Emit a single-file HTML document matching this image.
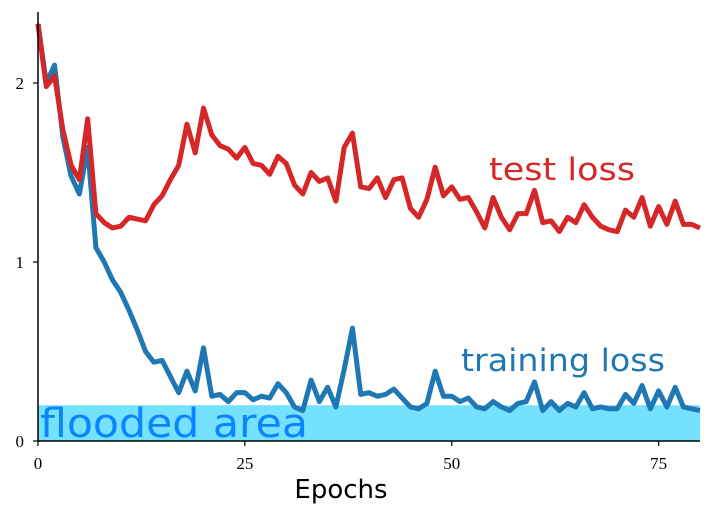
<!DOCTYPE html>
<html><head><meta charset="utf-8"><style>
html,body{margin:0;padding:0;background:#fff;}
svg{display:block;}
</style></head><body>
<svg id="chart" width="725" height="506" xmlns="http://www.w3.org/2000/svg">
<g id="plot"></g>
</svg>
<script>
const epochs = Array.from({length:81},(_,i)=>i);
const testLoss = [2.33,1.98,2.04,1.74,1.54,1.46,1.80,1.27,1.22,1.19,1.20,1.25,1.24,1.23,1.32,1.37,1.46,1.54,1.77,1.61,1.86,1.71,1.65,1.63,1.58,1.64,1.55,1.54,1.49,1.59,1.55,1.43,1.38,1.50,1.45,1.47,1.34,1.64,1.72,1.42,1.41,1.47,1.36,1.46,1.47,1.30,1.25,1.35,1.53,1.37,1.42,1.35,1.36,1.28,1.19,1.36,1.25,1.18,1.27,1.27,1.40,1.22,1.23,1.17,1.25,1.22,1.32,1.25,1.20,1.18,1.17,1.29,1.25,1.36,1.20,1.31,1.21,1.34,1.21,1.21,1.19];
const trainLoss = [2.33,2.00,2.10,1.70,1.48,1.38,1.64,1.08,1.00,0.90,0.83,0.73,0.62,0.50,0.44,0.45,0.36,0.27,0.39,0.28,0.52,0.25,0.26,0.22,0.27,0.27,0.23,0.25,0.24,0.32,0.27,0.19,0.17,0.34,0.22,0.30,0.19,0.40,0.63,0.26,0.27,0.25,0.26,0.29,0.24,0.19,0.18,0.21,0.39,0.25,0.25,0.22,0.24,0.19,0.18,0.22,0.19,0.17,0.21,0.22,0.33,0.17,0.22,0.17,0.21,0.19,0.27,0.18,0.19,0.18,0.18,0.26,0.21,0.31,0.18,0.28,0.19,0.30,0.19,0.18,0.17];
const floodLevel = 0.2;
const xTicks = [0,25,50,75];
const yTicks = [0,1,2];

const NS="http://www.w3.org/2000/svg";
const X0=38, X1=700, Y0=441, PXU=179;
const xs = v => X0 + (v/80)*(X1-X0);
const ys = v => Y0 - v*PXU;
const g = document.getElementById('plot');
function mk(tag, attrs){const e=document.createElementNS(NS,tag);for(const k in attrs)e.setAttribute(k,attrs[k]);g.appendChild(e);return e;}

let r = mk('rect',{x:X0,y:ys(floodLevel),width:X1-X0,height:Y0-ys(floodLevel),fill:'#74e1ff'});



function line(data,color,name){
  const p = mk('polyline',{points:data.map((v,i)=>xs(epochs[i])+','+ys(v)).join(' '),fill:'none',stroke:color,'stroke-width':5,'stroke-linejoin':'round','stroke-linecap':'butt'});
  
  
}
line(trainLoss,'#1f77b4','training-loss-line');
line(testLoss,'#d62728','test-loss-line');

let ax = mk('line',{x1:X0,y1:12,x2:X0,y2:Y0,stroke:'#000','stroke-width':1.5});


let bx = mk('line',{x1:X0,y1:Y0,x2:X1,y2:Y0,stroke:'#000','stroke-width':1.5});



xTicks.forEach(t=>{
  mk('line',{x1:xs(t),y1:Y0,x2:xs(t),y2:Y0+5,stroke:'#000','stroke-width':1.2});
  const tx = mk('text',{x:xs(t),y:Y0+28,'text-anchor':'middle','font-family':'Liberation Serif, serif','font-size':17});
  tx.textContent=t;
  
  
});
yTicks.forEach(t=>{
  mk('line',{x1:X0-5,y1:ys(t),x2:X0,y2:ys(t),stroke:'#000','stroke-width':1.2});
  const tx = mk('text',{x:X0-14,y:ys(t)+6,'text-anchor':'end','font-family':'Liberation Serif, serif','font-size':17});
  tx.textContent=t;
  
  
});

function label(txt,x,y,size,color,name,anchor,len){
  const a={x:x,y:y,'font-family':'DejaVu Sans, sans-serif','font-size':size,fill:color,'text-anchor':anchor||'start'};
  if(len){a.textLength=len;a.lengthAdjust='spacingAndGlyphs';}
  const t=mk('text',a);
  t.textContent=txt;
  
  
}
label('flooded area',40,437,40,'#0a84ff','flooded-area-label',null,268);
label('test loss',489,180,31,'#d62728','test-loss-label',null,146);
label('training loss',461,371,31,'#1f77b4','training-loss-label',null,204);
label('Epochs',341,498,26,'#000','x-axis-title','middle');
</script>
</body></html>
